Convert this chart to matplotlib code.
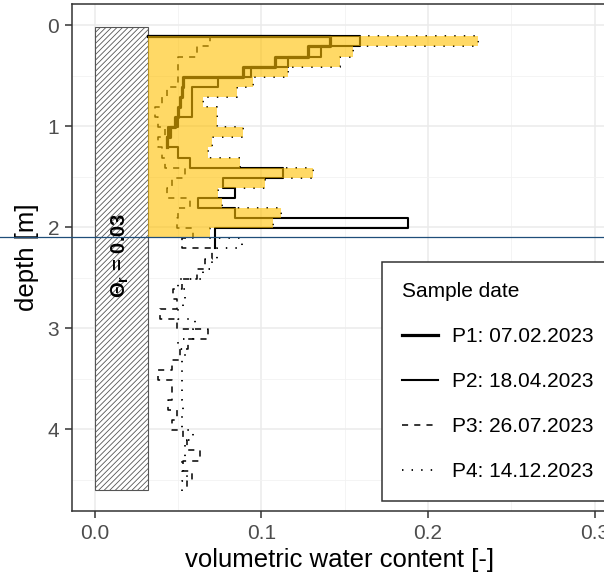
import numpy as np
import matplotlib
matplotlib.use("Agg")
import matplotlib.pyplot as plt
import matplotlib.transforms as mtransforms
from matplotlib.patches import Rectangle
from matplotlib.lines import Line2D

plt.rcParams['font.family'] = ['Liberation Sans', 'DejaVu Sans']
plt.rcParams['mathtext.fontset'] = 'custom'
plt.rcParams['mathtext.rm'] = 'Liberation Sans'
plt.rcParams['mathtext.bf'] = 'Liberation Sans:bold'
plt.rcParams['mathtext.it'] = 'Liberation Sans:italic'
plt.rcParams['hatch.linewidth'] = 0.6

# residual water content and layer geometry
theta_r = 0.032
top_depth = 0.11
layer = 0.1
fill_bottom = 2.1

# volumetric water content per 10 cm layer
p1 = [0.141, 0.128, 0.108, 0.089, 0.053, 0.052, 0.051, 0.050, 0.048, 0.045, 0.043]
p2 = [0.159, 0.136, 0.116, 0.094, 0.074, 0.058, 0.058, 0.058, 0.050, 0.044, 0.043,
      0.050, 0.057, 0.113, 0.077, 0.084, 0.062, 0.084, 0.188, 0.072, 0.072]
p3 = [0.069, 0.061, 0.050, 0.050, 0.050, 0.043, 0.040, 0.036, 0.038, 0.042, 0.038,
      0.040, 0.042, 0.054, 0.046, 0.043, 0.057, 0.050, 0.049, 0.059,
      0.052, 0.070, 0.066, 0.061, 0.052, 0.047, 0.049, 0.039, 0.049, 0.068,
      0.056, 0.051, 0.046, 0.038, 0.046, 0.046, 0.044, 0.049, 0.046, 0.053,
      0.055, 0.063, 0.053, 0.058, 0.055]
p4 = [0.230, 0.155, 0.147, 0.116, 0.095, 0.085, 0.065, 0.073, 0.073, 0.089, 0.070,
      0.068, 0.087, 0.131, 0.102, 0.074, 0.076, 0.112, 0.107, 0.069,
      0.088, 0.073, 0.070, 0.065, 0.050, 0.054, 0.053, 0.050, 0.060, 0.059,
      0.050, 0.054, 0.052, 0.052, 0.052, 0.052, 0.053, 0.052, 0.052, 0.059,
      0.054, 0.054, 0.052, 0.055, 0.052]

labels = ["P1: 07.02.2023", "P2: 18.04.2023", "P3: 26.07.2023", "P4: 14.12.2023"]
profiles = [p1, p2, p3, p4]
styles = [dict(lw=2.3, ls='-'), dict(lw=1.5, ls='-'),
          dict(lw=1.1, ls=(0, (4, 4))), dict(lw=1.3, ls=(0, (0.8, 4.5)))]


def step_xy(vals):
    vals = np.asarray(vals)
    edges = top_depth + layer * np.arange(len(vals) + 1)
    x = np.concatenate([[theta_r], np.repeat(vals, 2)])
    y = np.concatenate([[edges[0]], np.repeat(edges, 2)[1:-1]])
    return x, y


fig = plt.figure(figsize=(6.04, 5.79), dpi=100)
ax = fig.add_axes([72 / 604, 1 - 511 / 579, 535 / 604, 507 / 579])

ax.set_xlim(-0.0138, 0.3075)
ax.set_ylim(4.81, -0.21)

# residual water content block
ax.add_patch(Rectangle((0, 0.02), theta_r, 4.58, facecolor='white',
                       edgecolor='#555555', hatch='//////', lw=0.8, zorder=2))
ax.text(0.0155, 2.28, r'$\mathbf{\Theta_r}$ = 0.03', rotation=90,
        ha='center', va='center', fontsize=14.5, fontweight='bold', zorder=6)

for vals, st in zip(profiles, styles):
    x, y = step_xy(vals)
    ax.plot(x, y, color='black', zorder=3, **st)

# yellow band: between theta_r and P4 down to 2.1 m
n_fill = int(round((fill_bottom - top_depth) / layer))
edges = np.minimum(top_depth + layer * np.arange(n_fill + 1), fill_bottom)
ax.fill_betweenx(np.repeat(edges, 2)[1:-1], theta_r, np.repeat(p4[:n_fill], 2),
                 color='#FFC000', alpha=0.6, lw=0, zorder=4)

# horizontal marker across the whole figure
trans = mtransforms.blended_transform_factory(fig.transFigure, ax.transData)
fig.add_artist(Line2D([0, 1], [2.1, 2.1], transform=trans, color='#1F4E79',
                      lw=0.9, zorder=7))

ax.set_xticks([0.0, 0.1, 0.2, 0.3])
ax.set_xticklabels(["0.0", "0.1", "0.2", "0.3"])
ax.set_xticks([0.05, 0.15, 0.25], minor=True)
ax.set_yticks([0, 1, 2, 3, 4])
ax.set_yticks([0.5, 1.5, 2.5, 3.5, 4.5], minor=True)
ax.grid(which='major', color='#EBEBEB', lw=1.1, zorder=0)
ax.grid(which='minor', color='#F2F2F2', lw=0.6, zorder=0)
ax.set_axisbelow(True)
ax.tick_params(which='major', length=4.7, width=1.1, color='#333333',
               labelsize=15, labelcolor='#4D4D4D', pad=4.5)
ax.tick_params(which='minor', length=0)
for s in ax.spines.values():
    s.set_color('#333333')
    s.set_linewidth(1.1)

ax.set_xlabel("volumetric water content [-]", fontsize=18.5, labelpad=4)
ax.set_ylabel("depth [m]", fontsize=18.5, labelpad=6)

handles = [Line2D([], [], color='black', **st) for st in styles]
leg = ax.legend(handles, labels, title='Sample date', loc='upper left',
                bbox_to_anchor=(382 / 604, 1 - 262 / 579),
                bbox_transform=fig.transFigure, fontsize=15, title_fontsize=15,
                frameon=True, fancybox=False, framealpha=1, edgecolor='#333333',
                alignment='left', handlelength=1.75, handletextpad=0.65,
                labelspacing=1.25, borderpad=0.95, borderaxespad=0)
leg.get_frame().set_linewidth(1.1)
leg.set_zorder(10)

fig.savefig("out.png", dpi=100)
